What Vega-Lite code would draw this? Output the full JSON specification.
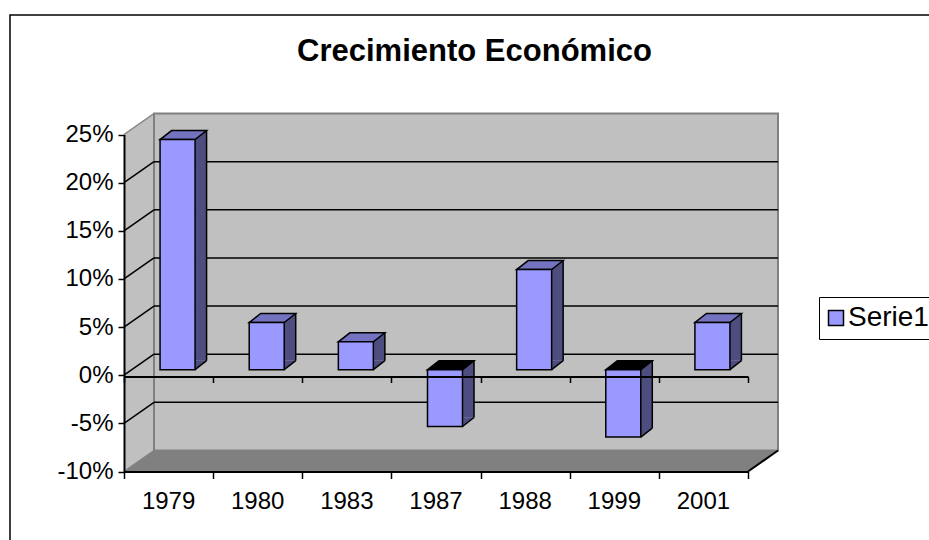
{
  "$schema": "https://vega.github.io/schema/vega-lite/v6.json",
  "width": 919,
  "height": 525,
  "autosize": {"type": "none"},
  "padding": {"left": 10, "top": 15, "right": 0, "bottom": 0},
  "background": "white",
  "config": {"view": {"stroke": "black", "strokeWidth": 1.5, "strokeDash": [919, 1444, 525, 1000]}, "font": "Liberation Sans"},
  "title": {"text": "Crecimiento Económico", "fontSize": 31, "fontWeight": "bold", "font": "Liberation Sans", "color": "black", "anchor": "middle", "frame": "group", "baseline": "alphabetic", "offset": -77, "dx": 5},
  "layer": [
    {
      "layer": [
        {
          "data": {"values": [{"sx": 0, "lo": -0.1, "hi": 0.25}, {"sx": 0.3366, "lo": -0.0782, "hi": 0.2718}]},
          "mark": {"type": "area", "orient": "vertical", "fill": "#c0c0c0", "opacity": 1},
          "encoding": {
            "x": {"field": "sx", "type": "quantitative", "scale": {"type": "linear", "domain": [0, 7], "range": [114, 738], "nice": false, "zero": false},
              "axis": {"orient": "bottom", "offset": -163.5, "values": [0, 1, 2, 3, 4, 5, 6, 7], "labels": false, "ticks": true, "tickSize": 6, "tickColor": "black", "tickWidth": 1.5, "domain": true, "domainColor": "black", "domainWidth": 2, "grid": false, "title": null, "zindex": 1}},
            "y": {"field": "hi", "type": "quantitative", "scale": {"domain": [-0.1, 0.25], "range": [456.5, 119.5], "nice": false, "zero": false}},
            "y2": {"field": "lo"}
          }
        },
        {
          "data": {"values": [{}]},
          "mark": {"type": "rect", "fill": "#c0c0c0", "stroke": "#808080", "strokeWidth": 2, "xOffset": 30, "x2Offset": 30, "yOffset": -21, "y2Offset": -21, "opacity": 1},
          "encoding": {
            "x": {"datum": 0, "type": "quantitative", "scale": {"type": "linear", "domain": [0, 7], "range": [114, 738], "nice": false, "zero": false}},
            "x2": {"datum": 7},
            "y": {"datum": -0.1, "type": "quantitative", "scale": {"domain": [-0.1, 0.25], "range": [456.5, 119.5], "nice": false, "zero": false}},
            "y2": {"datum": 0.25}
          }
        },
        {
          "data": {"values": [{"v": -0.05}, {"v": 0}, {"v": 0.05}, {"v": 0.1}, {"v": 0.15}, {"v": 0.2}]},
          "mark": {"type": "rule", "stroke": "black", "strokeWidth": 1.5, "xOffset": 30, "x2Offset": 30, "yOffset": -21},
          "encoding": {
            "x": {"datum": 0, "type": "quantitative", "scale": {"type": "linear", "domain": [0, 7], "range": [114, 738], "nice": false, "zero": false}},
            "x2": {"datum": 7},
            "y": {"field": "v", "type": "quantitative", "scale": {"domain": [-0.1, 0.25], "range": [456.5, 119.5], "nice": false, "zero": false}}
          }
        },
        {
          "data": {"values": [{"v": -0.1}, {"v": -0.05}, {"v": 0}, {"v": 0.05}, {"v": 0.1}, {"v": 0.15}, {"v": 0.2}, {"v": 0.25}]},
          "mark": {"type": "rule", "strokeWidth": 1.5, "x2Offset": 30, "y2Offset": -21},
          "encoding": {
            "x": {"datum": 0, "type": "quantitative", "scale": {"type": "linear", "domain": [0, 7], "range": [114, 738], "nice": false, "zero": false}},
            "x2": {"datum": 0},
            "y": {"field": "v", "type": "quantitative", "scale": {"domain": [-0.1, 0.25], "range": [456.5, 119.5], "nice": false, "zero": false}},
            "y2": {"field": "v"},
            "stroke": {"condition": {"test": "datum.v < -0.09 || datum.v > 0.24", "value": "#808080"}, "value": "black"}
          }
        }
      ]
    },
    {
      "layer": [
        {
          "data": {"values": [{"fy": -0.1, "fx0": 0, "fx1": 7}, {"fy": -0.0782, "fx0": 0.3366, "fx1": 7.3366}]},
          "mark": {"type": "area", "orient": "horizontal", "fill": "#808080", "opacity": 1},
          "encoding": {
            "y": {"field": "fy", "type": "quantitative", "scale": {"domain": [-0.1, 0.25], "range": [456.5, 119.5], "nice": false, "zero": false}},
            "x": {"field": "fx0", "type": "quantitative", "scale": {"type": "linear", "domain": [0, 7], "range": [114, 738], "nice": false, "zero": false},
              "axis": {"orient": "bottom", "offset": -68.5, "values": [0, 1, 2, 3, 4, 5, 6, 7], "labels": false, "ticks": true, "tickSize": 7, "tickColor": "black", "tickWidth": 1.5, "domain": true, "domainColor": "black", "domainWidth": 2, "grid": false, "title": null, "zindex": 1}},
            "x2": {"field": "fx1"}
          }
        },
        {
          "data": {"values": [{}]},
          "mark": {"type": "rule", "stroke": "black", "strokeWidth": 2, "x2Offset": 30, "y2Offset": -21},
          "encoding": {
            "x": {"datum": 7, "type": "quantitative", "scale": {"type": "linear", "domain": [0, 7], "range": [114, 738], "nice": false, "zero": false}},
            "x2": {"datum": 7},
            "y": {"datum": -0.1, "type": "quantitative", "scale": {"domain": [-0.1, 0.25], "range": [456.5, 119.5], "nice": false, "zero": false}},
            "y2": {"datum": -0.1}
          }
        }
      ]
    },
    {
      "data": {"values": [
        {"year": "1979", "v": 0.239},
        {"year": "1980", "v": 0.049},
        {"year": "1983", "v": 0.029},
        {"year": "1987", "v": -0.059},
        {"year": "1988", "v": 0.104},
        {"year": "1999", "v": -0.07},
        {"year": "2001", "v": 0.049}
      ]},
      "layer": [
        {
          "mark": {"type": "bar", "width": 11.5, "xOffset": 32.25, "yOffset": -14.5, "y2Offset": -14.5, "fill": "#4d4d80", "strokeWidth": 0, "opacity": 1},
          "encoding": {
            "x": {"field": "year", "type": "nominal", "scale": {"type": "band", "domain": ["1979", "1980", "1983", "1987", "1988", "1999", "2001"], "range": [114, 738], "paddingInner": 0, "paddingOuter": 0},
              "axis": {"orient": "bottom", "offset": -68.5, "ticks": false, "tickSize": 0, "domain": false, "labelFontSize": 24, "labelFont": "Liberation Sans", "labelColor": "black", "labelPadding": 18, "labelAngle": 0, "grid": false, "title": null}},
            "y": {"field": "v", "type": "quantitative", "scale": {"domain": [-0.1, 0.25], "range": [456.5, 119.5], "nice": false, "zero": false},
              "axis": {"orient": "left", "offset": -114, "values": [-0.1, -0.05, 0, 0.05, 0.1, 0.15, 0.2, 0.25], "labelExpr": "(datum.value < 0 ? '-' : '') + format(abs(datum.value), '.0%')", "labelFontSize": 24, "labelFont": "Liberation Sans", "labelColor": "black", "labelPadding": 5, "tickSize": 6, "tickColor": "black", "tickWidth": 1.5, "domainColor": "black", "domainWidth": 2, "grid": false, "title": null, "zindex": 1}},
            "y2": {"datum": 0}
          }
        },
        {
          "mark": {"type": "rule", "xOffset": 38, "yOffset": -14.5, "y2Offset": -14.5, "stroke": "black", "strokeWidth": 1.5},
          "encoding": {
            "x": {"field": "year", "type": "nominal", "scale": {"type": "band", "domain": ["1979", "1980", "1983", "1987", "1988", "1999", "2001"], "range": [114, 738], "paddingInner": 0, "paddingOuter": 0}},
            "y": {"field": "v", "type": "quantitative", "scale": {"domain": [-0.1, 0.25], "range": [456.5, 119.5], "nice": false, "zero": false}},
            "y2": {"datum": 0}
          }
        },
        {
          "transform": [{"filter": "datum.v >= 0"}],
          "mark": {"type": "point", "shape": "M0,0 L11.5,-9 L0,-9 Z", "size": 4, "filled": true, "fill": "#4d4d80", "strokeWidth": 0, "opacity": 1, "xOffset": 26.5, "yOffset": -5.5},
          "encoding": {
            "x": {"field": "year", "type": "nominal", "scale": {"type": "band", "domain": ["1979", "1980", "1983", "1987", "1988", "1999", "2001"], "range": [114, 738], "paddingInner": 0, "paddingOuter": 0}},
            "y": {"datum": 0, "type": "quantitative", "scale": {"domain": [-0.1, 0.25], "range": [456.5, 119.5], "nice": false, "zero": false}}
          }
        },
        {
          "transform": [{"filter": "datum.v < 0"}],
          "mark": {"type": "point", "shape": "M0,0 L11.5,-9 L0,-9 Z", "size": 4, "filled": true, "fill": "#4d4d80", "strokeWidth": 0, "opacity": 1, "xOffset": 26.5, "yOffset": -5.5},
          "encoding": {
            "x": {"field": "year", "type": "nominal", "scale": {"type": "band", "domain": ["1979", "1980", "1983", "1987", "1988", "1999", "2001"], "range": [114, 738], "paddingInner": 0, "paddingOuter": 0}},
            "y": {"field": "v", "type": "quantitative", "scale": {"domain": [-0.1, 0.25], "range": [456.5, 119.5], "nice": false, "zero": false}}
          }
        },
        {
          "transform": [{"filter": "datum.v >= 0"}],
          "mark": {"type": "point", "shape": "M0,0 L11.5,-9", "size": 4, "filled": false, "stroke": "black", "strokeWidth": 1.5, "fillOpacity": 0, "opacity": 1, "xOffset": 26.5, "yOffset": -5.5},
          "encoding": {
            "x": {"field": "year", "type": "nominal", "scale": {"type": "band", "domain": ["1979", "1980", "1983", "1987", "1988", "1999", "2001"], "range": [114, 738], "paddingInner": 0, "paddingOuter": 0}},
            "y": {"datum": 0, "type": "quantitative", "scale": {"domain": [-0.1, 0.25], "range": [456.5, 119.5], "nice": false, "zero": false}}
          }
        },
        {
          "transform": [{"filter": "datum.v < 0"}],
          "mark": {"type": "point", "shape": "M0,0 L11.5,-9", "size": 4, "filled": false, "stroke": "black", "strokeWidth": 1.5, "fillOpacity": 0, "opacity": 1, "xOffset": 26.5, "yOffset": -5.5},
          "encoding": {
            "x": {"field": "year", "type": "nominal", "scale": {"type": "band", "domain": ["1979", "1980", "1983", "1987", "1988", "1999", "2001"], "range": [114, 738], "paddingInner": 0, "paddingOuter": 0}},
            "y": {"field": "v", "type": "quantitative", "scale": {"domain": [-0.1, 0.25], "range": [456.5, 119.5], "nice": false, "zero": false}}
          }
        },
        {
          "transform": [{"filter": "datum.v >= 0"}],
          "mark": {"type": "point", "shape": "M-17.5,0 L17.5,0 L29,-9 L-6,-9 Z", "size": 4, "filled": true, "fill": "#7373bf", "stroke": "black", "strokeWidth": 1.5, "opacity": 1, "xOffset": 9, "yOffset": -5.5},
          "encoding": {
            "x": {"field": "year", "type": "nominal", "scale": {"type": "band", "domain": ["1979", "1980", "1983", "1987", "1988", "1999", "2001"], "range": [114, 738], "paddingInner": 0, "paddingOuter": 0}},
            "y": {"field": "v", "type": "quantitative", "scale": {"domain": [-0.1, 0.25], "range": [456.5, 119.5], "nice": false, "zero": false}}
          }
        },
        {
          "transform": [{"filter": "datum.v < 0"}],
          "mark": {"type": "point", "shape": "M-17.5,0 L17.5,0 L29,-9 L-6,-9 Z", "size": 4, "filled": true, "fill": "black", "stroke": "black", "strokeWidth": 1.5, "opacity": 1, "xOffset": 9, "yOffset": -5.5},
          "encoding": {
            "x": {"field": "year", "type": "nominal", "scale": {"type": "band", "domain": ["1979", "1980", "1983", "1987", "1988", "1999", "2001"], "range": [114, 738], "paddingInner": 0, "paddingOuter": 0}},
            "y": {"datum": 0, "type": "quantitative", "scale": {"domain": [-0.1, 0.25], "range": [456.5, 119.5], "nice": false, "zero": false}}
          }
        },
        {
          "mark": {"type": "bar", "width": 35, "xOffset": 9, "yOffset": -5.5, "y2Offset": -5.5, "stroke": "black", "strokeWidth": 1.5, "opacity": 1},
          "encoding": {
            "x": {"field": "year", "type": "nominal", "scale": {"type": "band", "domain": ["1979", "1980", "1983", "1987", "1988", "1999", "2001"], "range": [114, 738], "paddingInner": 0, "paddingOuter": 0}},
            "y": {"field": "v", "type": "quantitative", "scale": {"domain": [-0.1, 0.25], "range": [456.5, 119.5], "nice": false, "zero": false}},
            "y2": {"datum": 0},
            "color": {"datum": "Serie1", "scale": {"domain": ["Serie1"], "range": ["#9999ff"]},
              "legend": {"orient": "none", "legendX": 809, "legendY": 282, "title": null, "symbolType": "square", "symbolSize": 225, "symbolStrokeColor": "black", "symbolStrokeWidth": 1.5, "symbolOffset": -4, "labelFontSize": 28, "labelFont": "Liberation Sans", "labelColor": "black", "labelOffset": -2, "padding": 7, "strokeColor": "black", "fillColor": "white", "cornerRadius": 0}}
          }
        }
      ]
    }
  ],
  "resolve": {"scale": {"x": "independent"}, "axis": {"x": "independent"}}
}
